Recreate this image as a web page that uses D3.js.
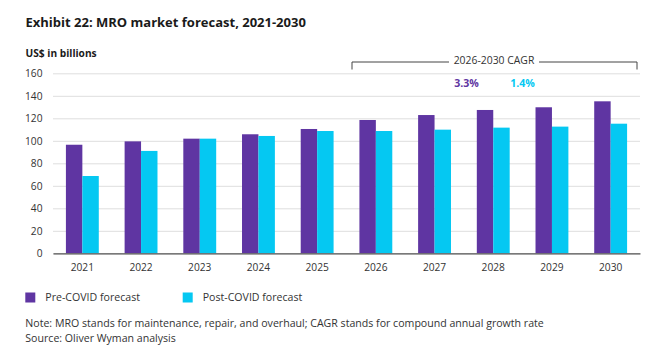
<!DOCTYPE html>
<html><head><meta charset="utf-8">
<script src="https://cdn.jsdelivr.net/npm/d3@7"></script>
<style>
html,body{margin:0;padding:0;background:#fff;}
svg{display:block;font-family:"Open Sans",sans-serif;}
</style></head>
<body><svg id="c" width="660" height="347"></svg>
<script>
const categories = ["2021","2022","2023","2024","2025","2026","2027","2028","2029","2030"];
const preCovid  = [96.5, 99.5, 101.9, 105.8, 110.5, 118.5, 122.9, 127.4, 129.8, 135.1];
const postCovid = [68.7, 91.0, 101.9, 104.3, 108.7, 108.7, 109.9, 111.7, 112.6, 115.2];
const yTicks = [0,20,40,60,80,100,120,140,160];
const seriesNames = ["Pre-COVID forecast","Post-COVID forecast"];
const colors = ["#5F35A2","#05C8F2"];
const cagr = ["3.3%","1.4%"];

const svg = d3.select("#c");
const txt = "#333";
const x = d3.scaleBand().domain(categories).range([53,640]).paddingInner(0.44).paddingOuter(0.22);
const xs = d3.scaleBand().domain([0,1]).range([0,x.bandwidth()]);
const y = d3.scaleLinear().domain([0,160]).range([253.3,73.3]);

svg.append("text").attr("x",25.5).attr("y",27).attr("font-size",13).attr("font-weight",700).attr("fill","#1a1a1a")
  .text("Exhibit 22: MRO market forecast, 2021-2030");
svg.append("text").attr("x",25.5).attr("y",57).attr("font-size",10.2).attr("font-weight",700).attr("fill","#1a1a1a")
  .text("US$ in billions");

// grid
const yAxis = d3.axisLeft(y).tickValues(yTicks).tickSize(-(640-53)).tickPadding(10.5);
const gy = svg.append("g").attr("transform","translate(53,0)").call(yAxis);
gy.select(".domain").remove();
gy.selectAll(".tick line").attr("stroke","#dedede").attr("stroke-width",1);
gy.selectAll(".tick text").attr("font-size",10.2).attr("fill",txt).attr("font-family","Open Sans");

// bars
const series = [preCovid, postCovid];
series.forEach((vals,si)=>{
  svg.append("g").selectAll("rect").data(vals).join("rect")
    .attr("x",(d,i)=>x(categories[i])+xs(si))
    .attr("y",d=>y(d))
    .attr("width",xs.bandwidth())
    .attr("height",d=>y(0)-y(d))
    .attr("fill",colors[si]);
});

// x axis
const gx = svg.append("g").attr("transform","translate(0,253.3)").call(d3.axisBottom(x).tickSize(0).tickPadding(10.5));
gx.select(".domain").attr("stroke","#555").attr("stroke-width",1.2);
gx.selectAll(".tick text").attr("font-size",10.2).attr("fill",txt).attr("font-family","Open Sans");

// CAGR bracket
const bx0 = 352, bx1 = 637, by = 62;
svg.append("path").attr("d",`M${bx0},69.5V${by}H449M539,${by}H${bx1}V69.5`).attr("fill","none").attr("stroke","#444").attr("stroke-width",1);
svg.append("text").attr("x",494).attr("y",64).attr("text-anchor","middle").attr("font-size",10.4).attr("fill",txt).text("2026-2030 CAGR");
svg.append("text").attr("x",466.5).attr("y",87).attr("text-anchor","middle").attr("font-size",10.6).attr("font-weight",700).attr("fill",colors[0]).text(cagr[0]);
svg.append("text").attr("x",522.5).attr("y",87).attr("text-anchor","middle").attr("font-size",10.6).attr("font-weight",700).attr("fill",colors[1]).text(cagr[1]);

// legend
const lx = [25.3,182.7];
seriesNames.forEach((n,i)=>{
  svg.append("rect").attr("x",lx[i]).attr("y",292.5).attr("width",10).attr("height",10).attr("fill",colors[i]);
  svg.append("text").attr("x",lx[i]+20).attr("y",301).attr("font-size",10.6).attr("fill",txt).text(n);
});

svg.append("text").attr("x",25.3).attr("y",327).attr("font-size",10.6).attr("fill",txt)
  .text("Note: MRO stands for maintenance, repair, and overhaul; CAGR stands for compound annual growth rate");
svg.append("text").attr("x",25.3).attr("y",342).attr("font-size",10.6).attr("fill",txt)
  .text("Source: Oliver Wyman analysis");
</script></body></html>
